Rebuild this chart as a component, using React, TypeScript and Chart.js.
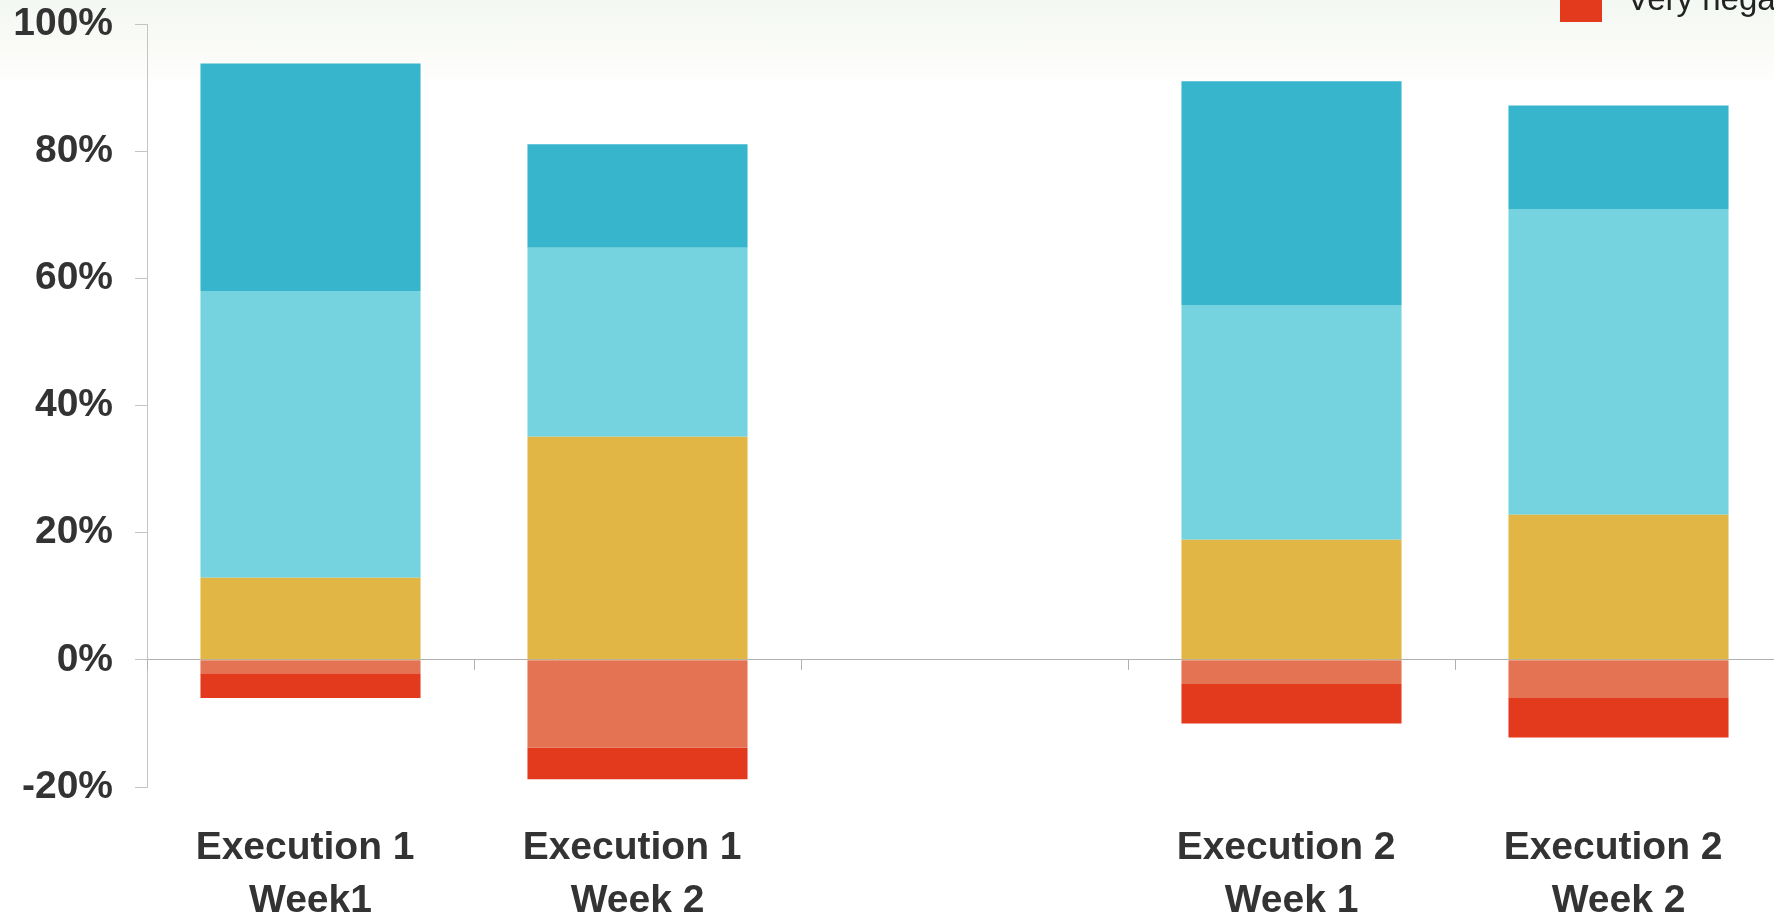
import React, { useEffect, useRef } from "react";
import { Chart, registerables } from "chart.js";

Chart.register(...registerables);

// ---- data ----
const categories: (string | string[])[] = [
  ["Execution 1 ", "Week1"],
  ["Execution 1 ", "Week 2"],
  "",
  ["Execution 2 ", "Week 1"],
  ["Execution 2 ", "Week 2"],
];
const legendOrder = ["Very positive", "Positive", "Neutral", "Negative", "Very negative"];
const veryPositive = [35.8, 16.3, null, 35.2, 16.3];
const positive = [45.1, 29.7, null, 36.9, 48.1];
const neutral = [12.9, 35.1, null, 18.9, 22.8];
const negative = [-2.1, -13.8, null, -3.8, -6.0];
const veryNegative = [-3.9, -5.0, null, -6.2, -6.2];
const yMin = -20;
const yMax = 100;
const yStep = 20;

const COLORS: Record<string, string> = {
  "Very positive": "#36B5CC",
  Positive: "#74D3DF",
  Neutral: "#E2B644",
  Negative: "#E37352",
  "Very negative": "#E33A1D",
};

const FONT = '"Liberation Sans", Arial, Helvetica, sans-serif';

const zeroTicksPlugin = {
  id: "zeroTicks",
  afterDatasetsDraw(chart: any) {
    const xs = chart.scales.x;
    const ys = chart.scales.y;
    const ctx = chart.ctx;
    const y0 = ys.getPixelForValue(0);
    const half = (xs.getPixelForValue(1) - xs.getPixelForValue(0)) / 2;
    ctx.save();
    ctx.strokeStyle = "#b0b0b0";
    ctx.lineWidth = 1;
    for (let i = 0; i <= categories.length; i++) {
      const x = Math.round(xs.getPixelForValue(i) - half) + 0.5;
      ctx.beginPath();
      ctx.moveTo(x, y0);
      ctx.lineTo(x, y0 + 10);
      ctx.stroke();
    }
    ctx.restore();
  },
};

const sideLegendPlugin = {
  id: "sideLegend",
  afterDraw(chart: any) {
    const ctx = chart.ctx;
    const x = chart.chartArea.right - 222;
    const n = legendOrder.length;
    const box = 42;
    ctx.save();
    ctx.font = `33px ${FONT}`;
    ctx.textBaseline = "middle";
    ctx.textAlign = "left";
    legendOrder.forEach((label, i) => {
      const bottom = 22 - (n - 1 - i) * 58;
      ctx.fillStyle = COLORS[label];
      ctx.fillRect(x, bottom - box, box, box);
      ctx.fillStyle = "#222";
      ctx.fillText(label, x + box + 25, bottom - box / 2);
    });
    ctx.restore();
  },
};

export default function App() {
  const ref = useRef<HTMLCanvasElement | null>(null);

  useEffect(() => {
    if (!ref.current) return;
    const mk = (label: string, data: (number | null)[]) => ({
      label,
      data,
      backgroundColor: COLORS[label],
      borderWidth: 0,
      stack: "s",
    });
    const chart = new Chart(ref.current, {
      type: "bar",
      data: {
        labels: categories as any,
        datasets: [
          mk("Neutral", neutral),
          mk("Positive", positive),
          mk("Very positive", veryPositive),
          mk("Negative", negative),
          mk("Very negative", veryNegative),
        ] as any,
      },
      options: {
        animation: false,
        responsive: true,
        maintainAspectRatio: false,
        layout: { padding: { top: 24, left: 0, right: 0, bottom: 0 } },
        datasets: { bar: { categoryPercentage: 1, barPercentage: 0.673 } },
        plugins: {
          legend: { display: false },
          tooltip: { enabled: false },
        },
        scales: {
          x: {
            stacked: true,
            offset: true,
            grid: { display: false, drawTicks: false },
            border: { display: false },
            ticks: {
              color: "#333",
              font: { family: FONT, size: 39, weight: "bold", lineHeight: 1.36 },
              padding: 34.5,
              maxRotation: 0,
              autoSkip: false,
            },
            afterFit: (s: any) => {
              s.height = 133;
              s.paddingLeft = 0;
              s.paddingRight = 0;
            },
          },
          y: {
            stacked: true,
            min: yMin,
            max: yMax,
            z: 1,
            border: { display: true, color: "#c4c4c4", width: 1 },
            grid: {
              color: (c: any) => (c.tick && c.tick.value === 0 ? "#b0b0b0" : "rgba(0,0,0,0)"),
              tickColor: "#c4c4c4",
              tickLength: 12,
              lineWidth: 1,
            },
            ticks: {
              stepSize: yStep,
              color: "#333",
              padding: 22,
              font: { family: FONT, size: 39, weight: "bold" },
              callback: (v: any) => `${v}%`,
            },
            afterFit: (s: any) => {
              s.width = 147;
              s.paddingTop = 0;
              s.paddingBottom = 0;
            },
          },
        },
      },
      plugins: [zeroTicksPlugin, sideLegendPlugin],
    });
    return () => chart.destroy();
  }, []);

  return (
    <div
      style={{
        position: "fixed",
        left: 0,
        top: 0,
        width: 1774,
        height: 920,
        overflow: "hidden",
        background: "linear-gradient(to bottom, #f3f8f3 0px, #fafbf7 50px, #ffffff 88px)",
      }}
    >
      <div style={{ position: "relative", width: 1782, height: 920 }}>
        <canvas ref={ref} />
      </div>
    </div>
  );
}
